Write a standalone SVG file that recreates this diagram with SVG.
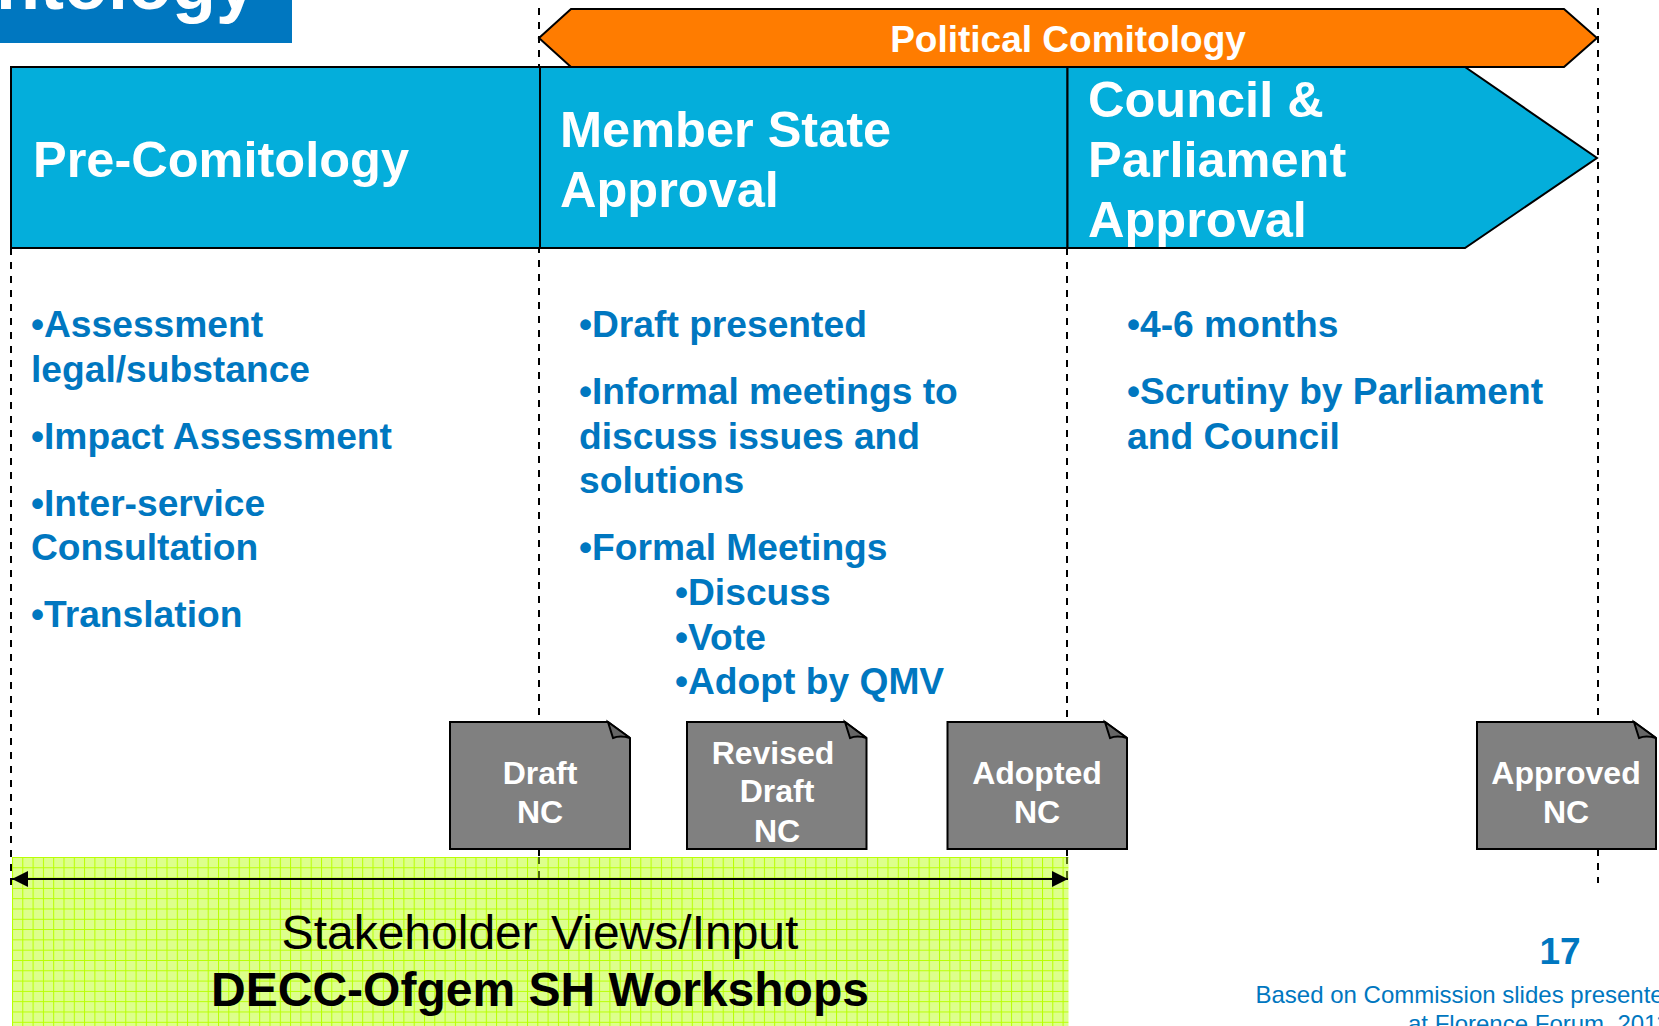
<svg xmlns="http://www.w3.org/2000/svg" width="1659" height="1026" viewBox="0 0 1659 1026">
<style>
text{font-family:"Liberation Sans",Arial,sans-serif}
.h{font-size:50.500px;font-weight:700;fill:#fff}
.b{font-size:37.200px;font-weight:700;fill:#0077c0}
.d{font-size:32px;font-weight:700;fill:#fff;text-anchor:middle}
.dash{fill:none;stroke:#000;stroke-width:2;stroke-dasharray:7 7}
.dash2{fill:none;stroke:#4f6a10;stroke-width:2;stroke-dasharray:7 7}
.doc{fill:#808080;stroke:#000;stroke-width:2}
.fold{fill:#666;stroke:#000;stroke-width:2}
.o{stroke:#000;stroke-width:2}
</style>
<defs>
<pattern id="grid" width="10.3" height="10.3" patternUnits="userSpaceOnUse" x="12" y="857">
<rect width="10.3" height="10.3" fill="#ddff8c"/>
<path d="M0 .5H10.3M.5 0V10.3" stroke="#b8ff00" stroke-width="1" fill="none"/>
</pattern>
<marker id="ah" markerUnits="userSpaceOnUse" markerWidth="16" markerHeight="16" refX="16" refY="8" orient="auto-start-reverse">
<path d="M0 0L16 8L0 16Z" fill="#000"/>
</marker>
<clipPath id="cp"><rect x="0" y="0" width="292" height="43"/></clipPath>
</defs>
<rect width="1659" height="1026" fill="#fff"/>
<g id="title">
<rect x="0" y="0" width="292" height="43" fill="#0077c0"/>
<text x="256" y="9" text-anchor="end" font-size="72" font-weight="700" fill="#fff" clip-path="url(#cp)">ntology</text>
</g>
<g id="stakeholder">
<rect x="12" y="857" width="1056.500" height="169" fill="url(#grid)"/>
<text x="540" y="949" font-size="48" text-anchor="middle" fill="#000">Stakeholder Views/Input</text>
<text x="540" y="1006" font-size="48" font-weight="700" text-anchor="middle" fill="#000">DECC-Ofgem SH Workshops</text>
</g>
<g id="connectors">
<path class="dash" d="M11 248V885"/>
<path class="dash" d="M539 8V722M539 849V857"/>
<path class="dash" d="M1067 248V722M1067 849V857"/>
<path class="dash2" d="M539 857V883M1067 857V883"/>
<path class="dash" d="M1598 8V722M1598 849V883"/>
<line x1="12" y1="879" x2="1068" y2="879" stroke="#000" stroke-width="2" marker-start="url(#ah)" marker-end="url(#ah)"/>
</g>
<g id="political">
<path class="o" d="M539 38L571 9H1564L1597 38L1564 67H571Z" fill="#ff7c00"/>
<text x="1068" y="52" font-size="37" font-weight="700" fill="#fff" text-anchor="middle">Political Comitology</text>
</g>
<g id="pre-comitology">
<rect class="o" x="11" y="67" width="529" height="181" fill="#04aedb"/>
<text class="h" x="33" y="177">Pre-Comitology</text>
</g>
<g id="member-state">
<rect class="o" x="540" y="67" width="527.500" height="181" fill="#04aedb"/>
<text class="h"><tspan x="560" y="147">Member State</tspan><tspan x="560" y="207">Approval</tspan></text>
</g>
<g id="council">
<path class="o" d="M1067.500 67H1465L1597 158L1465 248H1067.500Z" fill="#04aedb"/>
<text class="h"><tspan x="1088" y="117">Council &amp;</tspan><tspan x="1088" y="177">Parliament</tspan><tspan x="1088" y="237">Approval</tspan></text>
</g>
<g id="list-pre">
<text class="b"><tspan x="31" y="337">•Assessment</tspan><tspan x="31" y="382">legal/substance</tspan><tspan x="31" y="449">•Impact Assessment</tspan><tspan x="31" y="516">•Inter-service</tspan><tspan x="31" y="560">Consultation</tspan><tspan x="31" y="627">•Translation</tspan></text>
</g>
<g id="list-member">
<text class="b"><tspan x="579" y="337">•Draft presented</tspan><tspan x="579" y="404">•Informal meetings to</tspan><tspan x="579" y="449">discuss issues and</tspan><tspan x="579" y="493">solutions</tspan><tspan x="579" y="560">•Formal Meetings</tspan><tspan x="675" y="605">•Discuss</tspan><tspan x="675" y="650">•Vote</tspan><tspan x="675" y="694">•Adopt by QMV</tspan></text>
</g>
<g id="list-council">
<text class="b"><tspan x="1127" y="337">•4-6 months</tspan><tspan x="1127" y="404">•Scrutiny by Parliament</tspan><tspan x="1127" y="449">and Council</tspan></text>
</g>
<g id="doc-draft">
<path class="doc" d="M450 722H608L630 738V849H450Z"/><path class="fold" d="M608 722L630 738Q620 735 613 738Z"/>
<text class="d"><tspan x="540" y="784">Draft</tspan><tspan x="540" y="823">NC</tspan></text>
</g>
<g id="doc-revised">
<path class="doc" d="M687 722H845L866.500 738V849H687Z"/><path class="fold" d="M845 722L866.500 738Q857 735 850 738Z"/>
<text class="d"><tspan x="773" y="764">Revised</tspan><tspan x="777" y="802">Draft</tspan><tspan x="777" y="842">NC</tspan></text>
</g>
<g id="doc-adopted">
<path class="doc" d="M947.500 722H1105L1127 738V849H947.500Z"/><path class="fold" d="M1105 722L1127 738Q1117 735 1110 738Z"/>
<text class="d"><tspan x="1037" y="784">Adopted</tspan><tspan x="1037" y="823">NC</tspan></text>
</g>
<g id="doc-approved">
<path class="doc" d="M1477 722H1634L1656 738V849H1477Z"/><path class="fold" d="M1634 722L1656 738Q1646 735 1639 738Z"/>
<text class="d"><tspan x="1566" y="784">Approved</tspan><tspan x="1566" y="823">NC</tspan></text>
</g>
<g id="footer">
<text x="1560" y="964" font-size="37" font-weight="700" fill="#0077c0" text-anchor="middle">17</text>
<text font-size="24" fill="#0077c0"><tspan x="1255.500" y="1003">Based on Commission slides presented</tspan><tspan x="1408" y="1032">at Florence Forum, 2011</tspan></text>
</g>
</svg>
